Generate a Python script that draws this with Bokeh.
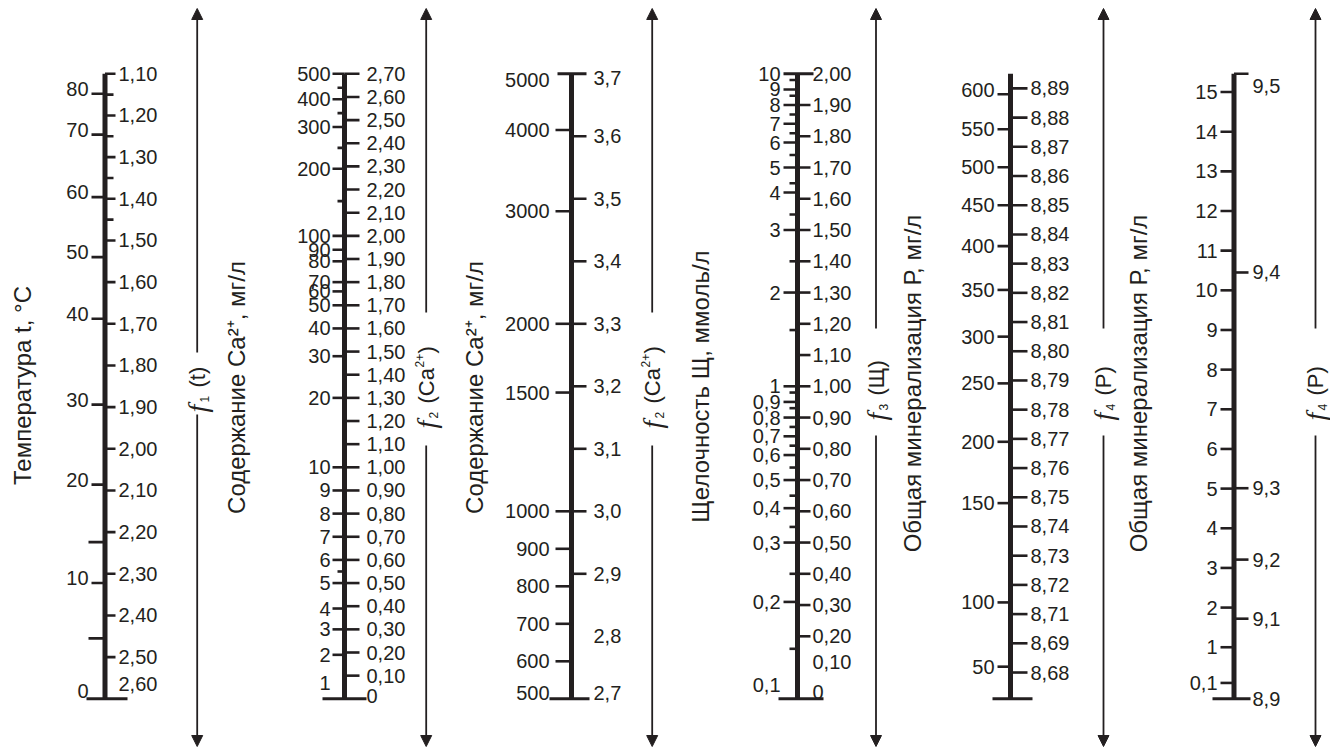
import math
from bokeh.plotting import figure
from bokeh.models import Range1d, Arrow, NormalHead, ColumnDataSource
from bokeh.core.properties import value
from bokeh.embed import file_html
from bokeh.resources import INLINE

# ---------------- data ----------------
# Column 1: temperature t, °C  <->  f1(t)
c1_f_vals = [1.10, 1.20, 1.30, 1.40, 1.50, 1.60, 1.70, 1.80, 1.90, 2.00, 2.10, 2.20, 2.30, 2.40, 2.50, 2.60]
c1_f_labels = ["1,10", "1,20", "1,30", "1,40", "1,50", "1,60", "1,70", "1,80", "1,90", "2,00", "2,10", "2,20", "2,30", "2,40", "2,50", "2,60"]
c1_f_minor = [1.15, 1.25, 1.35, 1.45]
c1_t_labels = ["80", "70", "60", "50", "40", "30", "20", "10", "0"]
c1_t_at_f = [1.148, 1.246, 1.396, 1.540, 1.688, 1.894, 2.086, 2.322, 2.600]
c1_t_minor_at_f = [2.224, 2.455]

# Column 2: Ca2+, mg/l (1..500)  <->  f2
c2_f_vals = [2.70, 2.60, 2.50, 2.40, 2.30, 2.20, 2.10, 2.00, 1.90, 1.80, 1.70, 1.60, 1.50, 1.40,
             1.30, 1.20, 1.10, 1.00, 0.90, 0.80, 0.70, 0.60, 0.50, 0.40, 0.30, 0.20, 0.10, 0.00]
c2_f_labels = ["2,70", "2,60", "2,50", "2,40", "2,30", "2,20", "2,10", "2,00", "1,90", "1,80", "1,70", "1,60", "1,50", "1,40",
               "1,30", "1,20", "1,10", "1,00", "0,90", "0,80", "0,70", "0,60", "0,50", "0,40", "0,30", "0,20", "0,10", "0"]
c2_ca_labels = ["500", "400", "300", "200", "100", "90", "80", "70", "60", "50", "40", "30", "20",
                "10", "9", "8", "7", "6", "5", "4", "3", "2", "1"]
c2_ca_at_f = [2.70, 2.59, 2.47, 2.29, 2.00, 1.94, 1.89, 1.80, 1.76, 1.70, 1.60, 1.48, 1.30,
              1.00, 0.90, 0.80, 0.70, 0.60, 0.50, 0.39, 0.30, 0.19, 0.07]
c2_ca_minor_at_f = [2.64, 2.53, 2.38, 2.15, 0.55]

# Column 3: Ca2+, mg/l (500..5000)  <->  f2
c3_f_vals = [3.7, 3.6, 3.5, 3.4, 3.3, 3.2, 3.1, 3.0, 2.9, 2.8, 2.7]
c3_f_labels = ["3,7", "3,6", "3,5", "3,4", "3,3", "3,2", "3,1", "3,0", "2,9", "2,8", "2,7"]
c3_f_ticks = [3.6, 3.5, 3.4, 3.3, 3.2, 3.1, 3.0, 2.9]
c3_ca_labels = ["5000", "4000", "3000", "2000", "1500", "1000", "900", "800", "700", "600", "500"]
c3_ca_at_f = [3.70, 3.61, 3.48, 3.30, 3.19, 3.00, 2.94, 2.88, 2.82, 2.76, 2.70]

# Column 4: alkalinity Щ, mmol/l  <->  f3
c4_f_vals = [2.00, 1.90, 1.80, 1.70, 1.60, 1.50, 1.40, 1.30, 1.20, 1.10, 1.00,
             0.90, 0.80, 0.70, 0.60, 0.50, 0.40, 0.30, 0.20, 0.10, 0.00]
c4_f_labels = ["2,00", "1,90", "1,80", "1,70", "1,60", "1,50", "1,40", "1,30", "1,20", "1,10", "1,00",
               "0,90", "0,80", "0,70", "0,60", "0,50", "0,40", "0,30", "0,20", "0,10", "0"]
c4_f_ticks = [1.90, 1.80, 1.70, 1.60, 1.50, 1.40, 1.30, 1.20, 1.10, 1.00,
              0.90, 0.80, 0.70, 0.60, 0.50, 0.40, 0.30, 0.20]
c4_sh_labels = ["10", "9", "8", "7", "6", "5", "4", "3", "2", "1",
                "0,9", "0,8", "0,7", "0,6", "0,5", "0,4", "0,3", "0,2", "0,1"]
c4_sh_at_f = [2.00, 1.95, 1.90, 1.84, 1.78, 1.70, 1.62, 1.50, 1.30, 1.00,
              0.95, 0.90, 0.84, 0.78, 0.70, 0.61, 0.50, 0.31, 0.00]
c4_sh_minor_at_f = [1.98, 1.93, 1.87, 1.81, 1.74, 1.65, 1.55, 1.40, 1.18,
                    0.98, 0.93, 0.87, 0.81, 0.74, 0.65, 0.55, 0.40, 0.16]

# Column 5: total mineralisation P, mg/l (50..600)  <->  f4
c5_f_vals = [8.89, 8.88, 8.87, 8.86, 8.85, 8.84, 8.83, 8.82, 8.81, 8.80, 8.79,
             8.78, 8.77, 8.76, 8.75, 8.74, 8.73, 8.72, 8.71, 8.70, 8.69]
c5_f_labels = ["8,89", "8,88", "8,87", "8,86", "8,85", "8,84", "8,83", "8,82", "8,81", "8,80", "8,79",
               "8,78", "8,77", "8,76", "8,75", "8,74", "8,73", "8,72", "8,71", "8,69", "8,68"]
c5_p_labels = ["600", "550", "500", "450", "400", "350", "300", "250", "200", "150", "100", "50"]
c5_p_at_f = [8.888, 8.876, 8.863, 8.850, 8.836, 8.821, 8.805, 8.789, 8.769, 8.748, 8.714, 8.692]

# Column 6: total mineralisation P (0,1..15)  <->  f4
c6_p_labels = ["15", "14", "13", "12", "11", "10", "9", "8", "7", "6", "5", "4", "3", "2", "1", "0,1"]
c6_p_vals = [15, 14, 13, 12, 11, 10, 9, 8, 7, 6, 5, 4, 3, 2, 1, 0.1]
c6_f_labels = ["9,5", "9,4", "9,3", "9,2", "9,1", "8,9"]
c6_f_at_p = [15.46, 10.45, 5.01, 3.21, 1.72, -0.30]

titles = ["Температура t, °C", "Содержание Ca²⁺, мг/л", "Содержание Ca²⁺, мг/л",
          "Щелочность Щ, ммоль/л", "Общая минерализация Р, мг/л", "Общая минерализация Р, мг/л"]

# ---------------- styling / layout ----------------
INK = "#231f20"
FONT = "Liberation Sans"
SERIF = "Liberation Serif"
TICK_FS = "20px"
W, H = 1330, 751
TOP_PX, BOT_PX = 73.3, 698.3          # vertical extent of every scale line (pixels)

p = figure(width=W, height=H, x_range=Range1d(0, W), y_range=Range1d(H, 0),
           output_backend="svg", toolbar_location=None, min_border=0,
           x_axis_location=None, y_axis_location=None)
p.outline_line_color = None
p.background_fill_color = "white"
p.border_fill_color = "white"
p.xgrid.grid_line_color = None
p.ygrid.grid_line_color = None


def add_range(name, u_top, u_bot):
    k = (u_bot - u_top) / (BOT_PX - TOP_PX)
    p.extra_y_ranges[name] = Range1d(start=u_top + (H - TOP_PX) * k,
                                     end=u_top + (0 - TOP_PX) * k)


def ticks(name, x0, x1, ys, lw=2.6):
    ys = list(ys)
    if not ys:
        return
    src = ColumnDataSource(dict(x0=[x0] * len(ys), x1=[x1] * len(ys), y=ys))
    p.segment(x0="x0", y0="y", x1="x1", y1="y", source=src, line_color=INK,
              line_width=lw, line_cap="butt", y_range_name=name)


def labels(name, x, ys, txt, align, offsets=None):
    ys = list(ys)
    if offsets is None:
        offsets = [0] * len(ys)
    src = ColumnDataSource(dict(x=[x] * len(ys), y=ys, t=list(txt), dy=offsets))
    p.text(x="x", y="y", text="t", y_offset="dy", source=src, text_align=align,
           text_baseline="middle", text_font=value(FONT), text_font_size=TICK_FS,
           text_color=INK, y_range_name=name)


def axis_line(name, x, u_top, u_bot):
    p.segment(x0=[x], y0=[u_top], x1=[x], y1=[u_bot], line_color=INK, line_width=5,
              line_cap="butt", y_range_name=name)


# ---- column 1
add_range("c1", 1.10, 2.60)
ax = 104.5
axis_line("c1", ax, 1.10, 2.60)
ticks("c1", ax, 115, c1_f_vals[:-1])
ticks("c1", ax, 113, c1_f_minor)
ticks("c1", 91, ax, c1_t_at_f[:-1])
ticks("c1", 88, ax, c1_t_minor_at_f)
ticks("c1", 86, 127, [2.60], lw=3)
labels("c1", 118, c1_f_vals, c1_f_labels, "left", [0] * 15 + [-15])
labels("c1", 88, c1_t_at_f, c1_t_labels, "right", [-5] * 8 + [-8])

# ---- column 2
add_range("c2", 2.70, 0.0)
ax = 344
axis_line("c2", ax, 2.70, 0.0)
ticks("c2", ax, 359, c2_f_vals[:-1])
ticks("c2", 332, ax, c2_ca_at_f[:-1])
ticks("c2", 337, ax, c2_ca_minor_at_f)
ticks("c2", 322, 366, [0.0], lw=3)
labels("c2", 366, c2_f_vals, c2_f_labels, "left", [0] * 27 + [-3])
labels("c2", 330, c2_ca_at_f, c2_ca_labels, "right")

# ---- column 3
add_range("c3", 3.70, 2.70)
ax = 571
axis_line("c3", ax, 3.70, 2.70)
ticks("c3", 557, 586, [3.70], lw=3)
ticks("c3", ax, 586, c3_f_ticks)
ticks("c3", 555, ax, c3_ca_at_f[1:-1])
ticks("c3", 549, 589, [2.70], lw=3)
labels("c3", 593, c3_f_vals, c3_f_labels, "left", [4] + [0] * 9 + [-6])
labels("c3", 549, c3_ca_at_f, c3_ca_labels, "right", [6] + [0] * 9 + [-6])

# ---- column 4
add_range("c4", 2.00, 0.0)
ax = 797
axis_line("c4", ax, 2.00, 0.0)
ticks("c4", 783, 813, [2.00], lw=3)
ticks("c4", ax, 810, c4_f_ticks)
ticks("c4", 783, ax, c4_sh_at_f[1:-1])
ticks("c4", 789, ax, c4_sh_minor_at_f)
ticks("c4", 778, 823, [0.0], lw=3)
labels("c4", 812, c4_f_vals, c4_f_labels, "left", [0] * 19 + [-6, -7])
labels("c4", 780, c4_sh_at_f, c4_sh_labels, "right", [0] * 18 + [-14])

# ---- column 5
add_range("c5", 8.895, 8.681)
ax = 1010
axis_line("c5", ax, 8.895, 8.681)
ticks("c5", ax, 1027, c5_f_vals)
ticks("c5", 997, ax, c5_p_at_f)
ticks("c5", 992, 1032, [8.681], lw=3)
labels("c5", 1030, c5_f_vals, c5_f_labels, "left")
labels("c5", 994, c5_p_at_f, c5_p_labels, "right", [-4] + [0] * 11)

# ---- column 6
add_range("c6", 15.46, -0.30)
ax = 1233.5
axis_line("c6", ax, 15.46, -0.30)
ticks("c6", ax, 1248, c6_f_at_p[:-1])
ticks("c6", 1220, ax, c6_p_vals)
ticks("c6", 1212, 1250, [-0.30], lw=3)
labels("c6", 1252, c6_f_at_p, c6_f_labels, "left", [12, 0, 0, 0, 0, 0])
labels("c6", 1217, c6_p_vals, c6_p_labels, "right")

# ---- rotated titles
title_x = [22, 236, 474, 700, 912, 1138]
title_y = [385, 387, 387, 386, 383, 383]
for tx, ty, tt in zip(title_x, title_y, titles):
    p.text(x=[tx], y=[ty], text=[tt], angle=math.pi / 2, text_align="center",
           text_baseline="middle", text_font=value(FONT), text_font_size="24px",
           text_color=INK)


# ---- f-labels with arrows
def flabel(x, y_bottom, parts):
    y = y_bottom
    for txt, font, size, style, dx, adv in parts:
        p.text(x=[x + dx], y=[y], text=[txt], angle=math.pi / 2, text_align="left",
               text_baseline="middle", text_font=value(font), text_font_size=f"{size}px",
               text_font_style=style, text_color=INK)
        y -= adv


def fparts(sub, arg, sup=None, fs=22):
    parts = [("f", SERIF, 28, "italic", 0, 10), (sub, FONT, 12, "normal", 7, 15)]
    if sup is None:
        parts.append(("(" + arg + ")", FONT, fs, "normal", 0, 0))
    else:
        parts.append(("(" + arg, FONT, fs, "normal", 0, 36))
        parts.append((sup, FONT, 12, "normal", -7, 14))
        parts.append((")", FONT, fs, "normal", 0, 0))
    return parts


arrow_specs = [
    # x, end of upper line, start of lower line, label start
    (196.7, 352, 414, 412, fparts("1", "t")),
    (425.7, 312, 445, 428, fparts("2", "Ca", "2+")),
    (651.7, 312, 445, 428, fparts("2", "Ca", "2+")),
    (875.5, 328, 435, 420, fparts("3", "Щ")),
    (1103.0, 328, 435, 420, fparts("4", "P")),
    (1315.0, 328, 435, 420, fparts("4", "P")),
]
for x, gap_top, gap_bot, lab_y, parts in arrow_specs:
    p.add_layout(Arrow(end=NormalHead(size=11, fill_color=INK, line_color=INK, line_width=1),
                       x_start=x, y_start=gap_top, x_end=x, y_end=8,
                       line_color=INK, line_width=1.8))
    p.add_layout(Arrow(end=NormalHead(size=11, fill_color=INK, line_color=INK, line_width=1),
                       x_start=x, y_start=gap_bot, x_end=x, y_end=746,
                       line_color=INK, line_width=1.8))
    flabel(x, lab_y, parts)

open("out.html", "w").write(file_html(p, INLINE))
